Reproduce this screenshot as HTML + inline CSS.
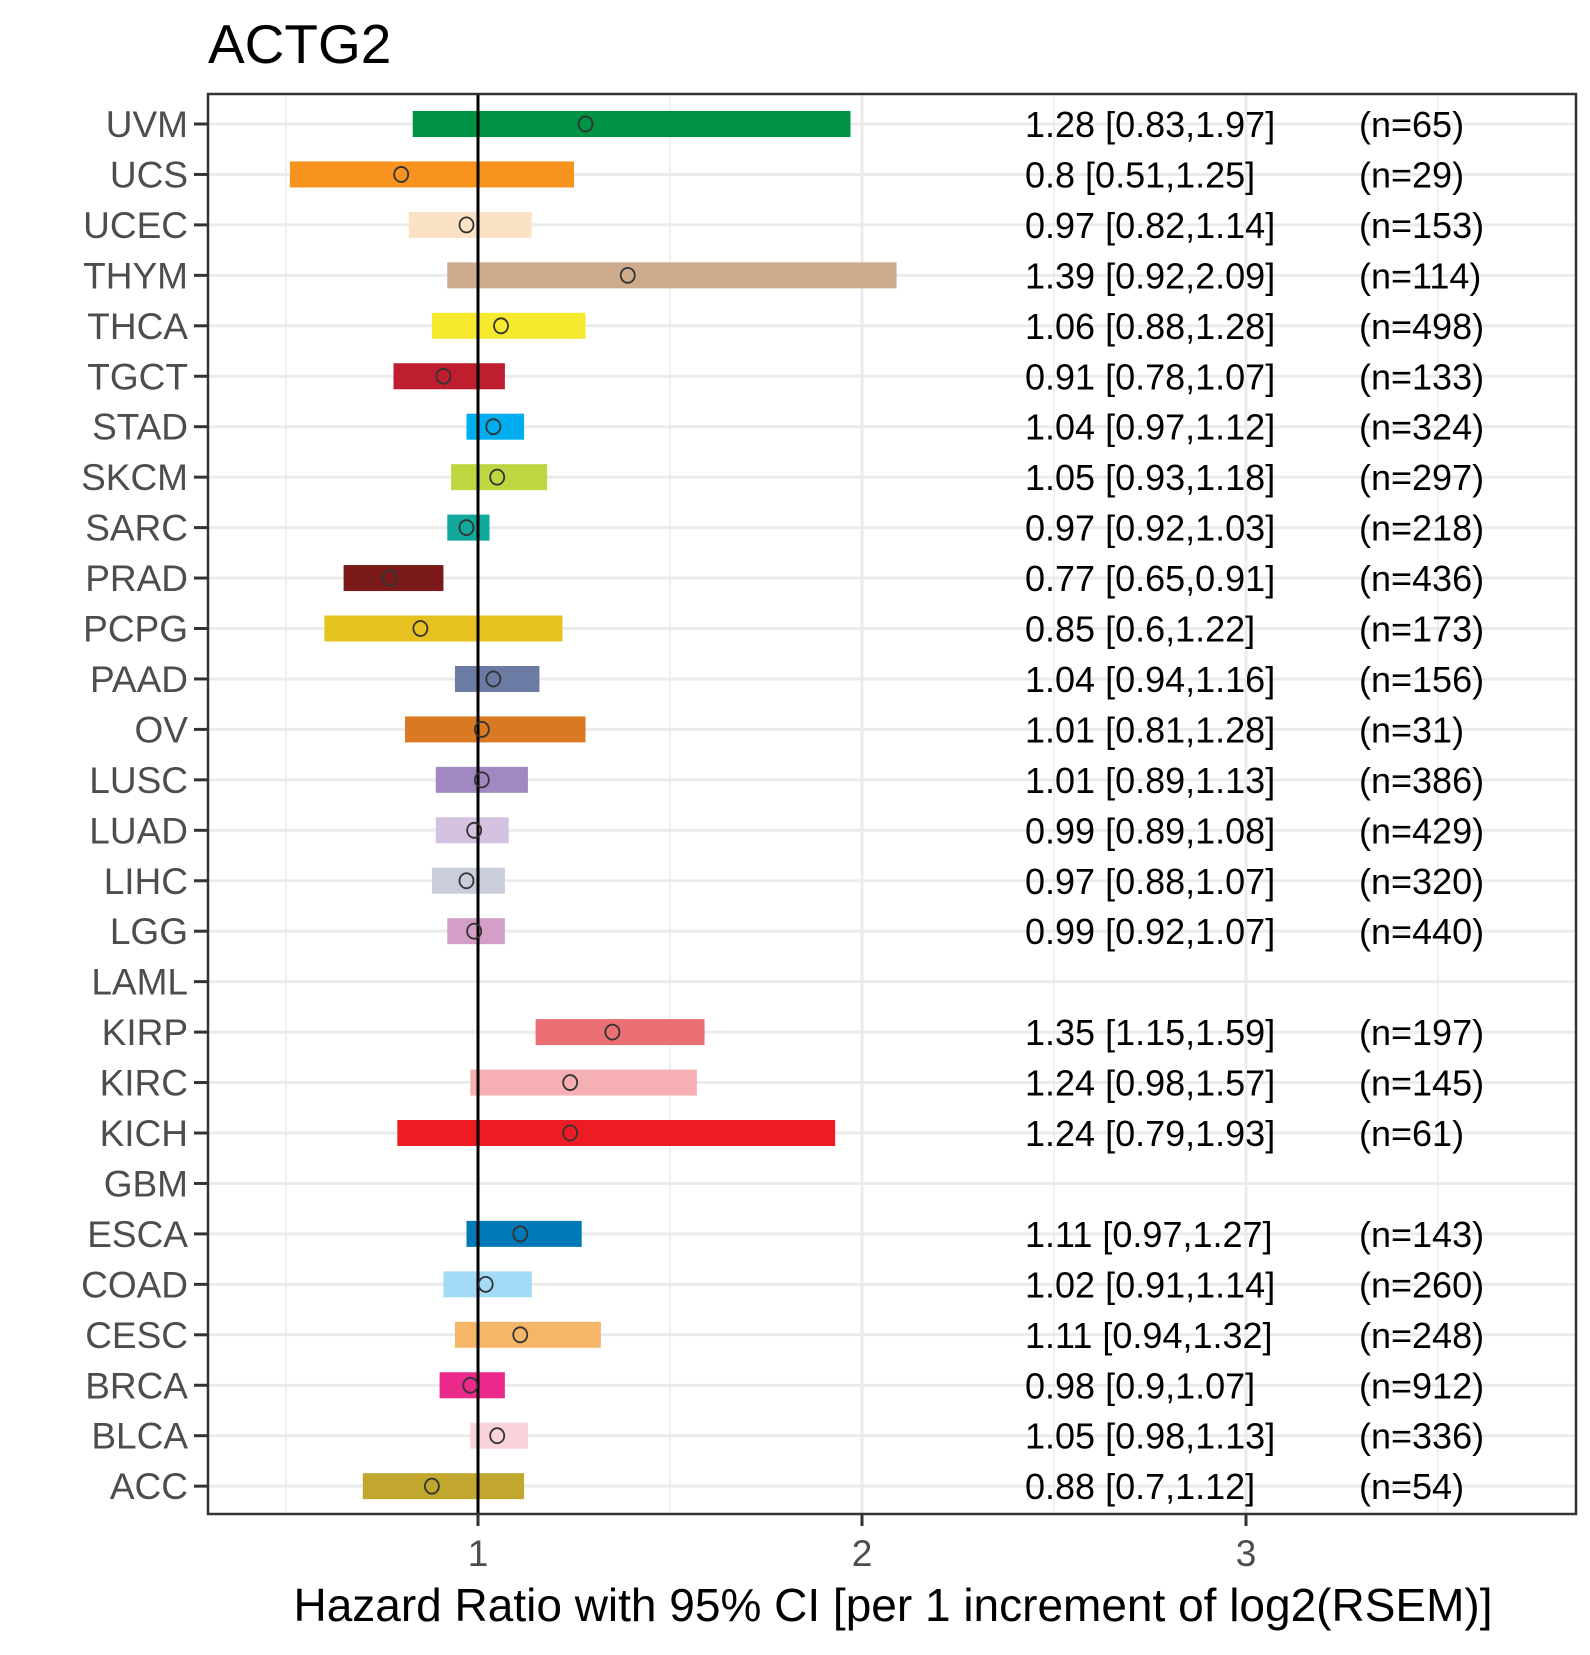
<!DOCTYPE html>
<html><head><meta charset="utf-8"><style>
body{margin:0;background:#fff}
svg text{font-family:"Liberation Sans",sans-serif}
</style></head><body>
<svg id="c" width="1590" height="1650" xmlns="http://www.w3.org/2000/svg">
<text x="208" y="63" font-size="55" fill="#000">ACTG2</text>
<g id="g"></g>
</svg>
<script>
const cancers=["UVM","UCS","UCEC","THYM","THCA","TGCT","STAD","SKCM","SARC","PRAD","PCPG","PAAD","OV","LUSC","LUAD","LIHC","LGG","LAML","KIRP","KIRC","KICH","GBM","ESCA","COAD","CESC","BRCA","BLCA","ACC"];
const hr=[1.28,0.8,0.97,1.39,1.06,0.91,1.04,1.05,0.97,0.77,0.85,1.04,1.01,1.01,0.99,0.97,0.99,null,1.35,1.24,1.24,null,1.11,1.02,1.11,0.98,1.05,0.88];
const lo=[0.83,0.51,0.82,0.92,0.88,0.78,0.97,0.93,0.92,0.65,0.6,0.94,0.81,0.89,0.89,0.88,0.92,null,1.15,0.98,0.79,null,0.97,0.91,0.94,0.9,0.98,0.7];
const hi=[1.97,1.25,1.14,2.09,1.28,1.07,1.12,1.18,1.03,0.91,1.22,1.16,1.28,1.13,1.08,1.07,1.07,null,1.59,1.57,1.93,null,1.27,1.14,1.32,1.07,1.13,1.12];
const nums=[65,29,153,114,498,133,324,297,218,436,173,156,31,386,429,320,440,null,197,145,61,null,143,260,248,912,336,54];
const colors=["#009245","#F7931E","#FBE2C4","#CFAB8E","#F7EA2E","#BE1E2D","#00AEEF","#BFD641","#13A89E","#7B1A1A","#E6C220","#6B7BA4","#D97A22","#A188C1","#D4C2E0","#CACDDA","#D49FC7","#999","#EA7075","#F6B0B4","#ED1C24","#999","#0079B8","#A3DAF6","#F5B66A","#EC2A8C","#F9D3DA","#C2A72E"];
const xTicks=[1,2,3];
const X0=208,X1=1576,Y0=94,Y1=1514;
const x=v=>478+(v-1)*384;
const y=i=>124+i*50.45;
const g=document.getElementById('g');
const NS="http://www.w3.org/2000/svg";
function mk(t,a){const e=document.createElementNS(NS,t);for(const k in a)e.setAttribute(k,a[k]);g.appendChild(e);return e;}
[0.5,1.5,2.5,3.5].forEach(v=>{const e=mk('line',{x1:x(v),x2:x(v),y1:Y0,y2:Y1,stroke:'#ebebeb','stroke-width':1.5});

});
xTicks.forEach(v=>{const e=mk('line',{x1:x(v),x2:x(v),y1:Y0,y2:Y1,stroke:'#ebebeb','stroke-width':3});

});
cancers.forEach((c,i)=>{
 const gl=mk('line',{x1:X0,x2:X1,y1:y(i),y2:y(i),stroke:'#ebebeb','stroke-width':3});
 
 
 const tk=mk('line',{x1:194,x2:X0,y1:y(i),y2:y(i),stroke:'#333','stroke-width':3});
 
 
 const lb=mk('text',{x:188,y:y(i)+13,'font-size':37,fill:'#4d4d4d','text-anchor':'end'});
 lb.textContent=c;
 
 
});
cancers.forEach((c,i)=>{
 if(hr[i]==null)return;
 const b=mk('rect',{x:x(lo[i]),y:y(i)-13,width:x(hi[i])-x(lo[i]),height:26,fill:colors[i]});
 
 
});
const ref=mk('line',{x1:x(1),x2:x(1),y1:Y0,y2:Y1,stroke:'#000','stroke-width':3});


cancers.forEach((c,i)=>{
 if(hr[i]==null)return;
 const p=mk('ellipse',{cx:x(hr[i]),cy:y(i),rx:7,ry:7.5,fill:'none',stroke:'#333','stroke-width':1.8});
 
 
 const t=mk('text',{x:1025,y:y(i)+13,'font-size':36,fill:'#000'});
 t.textContent=hr[i]+' ['+lo[i]+','+hi[i]+']';
 
 
 const n=mk('text',{x:1359,y:y(i)+13,'font-size':36,fill:'#000'});
 n.textContent='(n='+nums[i]+')';
 
 
});
const fr=mk('rect',{x:X0,y:Y0,width:X1-X0,height:Y1-Y0,fill:'none',stroke:'#333','stroke-width':2.5});


xTicks.forEach(v=>{
 const t=mk('line',{x1:x(v),x2:x(v),y1:Y1,y2:Y1+12,stroke:'#333','stroke-width':3});
 
 
 const l=mk('text',{x:x(v),y:Y1+52,'font-size':37,fill:'#4d4d4d','text-anchor':'middle'});
 l.textContent=v;
 
 
});
const at=mk('text',{x:893,y:1621,'font-size':46,fill:'#000','text-anchor':'middle'});
at.textContent='Hazard Ratio with 95% CI [per 1 increment of log2(RSEM)]';


</script>
</body></html>
